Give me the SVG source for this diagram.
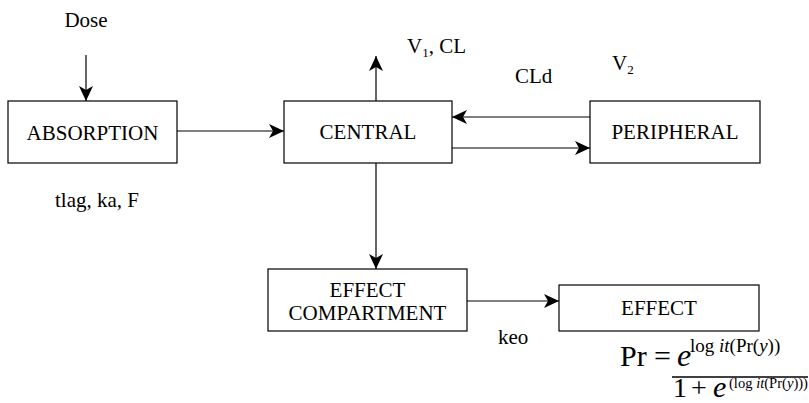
<svg xmlns="http://www.w3.org/2000/svg" width="809" height="403" viewBox="0 0 809 403">
<style>
text{font-family:'Liberation Serif','DejaVu Serif',serif;fill:#000}
.lbl{font-size:21px}
.box{fill:#fff;stroke:#000;stroke-width:1.2}
.c{text-anchor:middle}
.edge{stroke:#000;stroke-width:1.2;fill:none;marker-end:url(#ah)}
.it{font-style:italic}
</style>
<defs>
<marker id="ah" markerUnits="userSpaceOnUse" markerWidth="16" markerHeight="14" refX="15" refY="7" orient="auto">
<path d="M0,0 L15,7 L0,14 L4,7 Z" fill="#000"/>
</marker>
</defs>
<rect width="809" height="403" fill="#fff"/>
<g id="connectors">
<line class="edge" x1="86" y1="55" x2="86" y2="101"/>
<line class="edge" x1="177" y1="131" x2="284" y2="131"/>
<line class="edge" x1="376" y1="101" x2="376" y2="56"/>
<line class="edge" x1="590" y1="117" x2="452" y2="117"/>
<line class="edge" x1="452" y1="148" x2="590" y2="148"/>
<line class="edge" x1="376" y1="163" x2="376" y2="269"/>
<line class="edge" x1="467" y1="301" x2="559" y2="301"/>
</g>
<g id="absorption">
<rect class="box" x="8" y="101" width="169" height="62"/>
<text class="lbl c" x="92.5" y="140">ABSORPTION</text>
</g>
<g id="central">
<rect class="box" x="284" y="101" width="168" height="62"/>
<text class="lbl c" x="368" y="139">CENTRAL</text>
</g>
<g id="peripheral">
<rect class="box" x="590" y="101" width="170" height="62"/>
<text class="lbl c" x="675" y="139">PERIPHERAL</text>
</g>
<g id="effect-compartment">
<rect class="box" x="268" y="269" width="199" height="62"/>
<text class="lbl c" x="367.5" y="297">EFFECT</text>
<text class="lbl c" x="367.5" y="320">COMPARTMENT</text>
</g>
<g id="effect">
<rect class="box" x="559" y="285" width="200" height="46"/>
<text class="lbl c" x="659" y="315">EFFECT</text>
</g>
<g id="labels">
<text class="lbl c" x="86" y="27">Dose</text>
<text class="lbl c" x="97" y="207">tlag, ka, F</text>
<text class="lbl" x="407" y="53">V<tspan font-size="13" dy="4">1</tspan><tspan dy="-4">, CL</tspan></text>
<text class="lbl" x="515" y="83">CLd</text>
<text class="lbl" x="612" y="70">V<tspan font-size="13" dy="4">2</tspan></text>
<text class="lbl" x="498" y="344">keo</text>
</g>
<g id="formula">
<text x="620" y="366" font-size="30">Pr</text>
<text x="654" y="366" font-size="30">=</text>
<line x1="672" y1="377" x2="808" y2="377" stroke="#000" stroke-width="1.5"/>
<text x="677" y="366" font-size="32" class="it">e</text>
<text x="690" y="352" font-size="19">log <tspan class="it">it</tspan>(Pr(<tspan class="it">y</tspan>))</text>
<text x="673" y="397" font-size="28">1</text>
<text x="691" y="397" font-size="28">+</text>
<text x="713" y="397" font-size="30" class="it">e</text>
<text x="729" y="388" font-size="15" textLength="79" lengthAdjust="spacingAndGlyphs">(log <tspan class="it">it</tspan>(Pr(<tspan class="it">y</tspan>)))</text>
</g>
</svg>
